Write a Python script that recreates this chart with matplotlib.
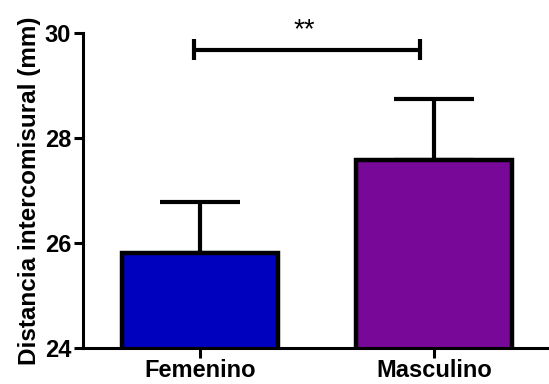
import matplotlib.pyplot as plt

plt.rcParams["font.family"] = ["Liberation Sans", "DejaVu Sans"]
plt.rcParams["font.weight"] = "bold"

groups = ["Femenino", "Masculino"]
means = [25.81, 27.59]
sem = [0.97, 1.15]
colors = ["#0000BF", "#770898"]
sig_label = "**"
sig_y = 29.68

fig = plt.figure(figsize=(5.49, 3.84), dpi=100)
ax = fig.add_axes([0.151, 0.094, 0.849, 0.82])

x = list(range(len(groups)))
ax.errorbar(x, means, yerr=[[0] * len(sem), sem], fmt="none", ecolor="black",
            elinewidth=3, capsize=29, capthick=3, zorder=1)
ax.bar(x, means, width=0.667, color=colors, edgecolor="black", linewidth=3.2,
       zorder=2)

# significance bracket between the two groups
x0, x1 = x[0] - 0.026, x[1] - 0.06
ax.plot([x0, x1], [sig_y, sig_y], color="black", lw=3, solid_capstyle="butt")
for xe in (x0, x1):
    ax.plot([xe, xe], [sig_y - 0.2, sig_y + 0.2], color="black", lw=3,
            solid_capstyle="butt")
ax.text((x0 + x1) / 2 - 0.01, sig_y + 0.12, sig_label, ha="center",
        va="bottom", fontsize=20, fontweight="normal")

ax.set_ylim(24, 30)
ax.set_xlim(-0.5, 1.49)
ax.set_yticks([24, 26, 28, 30])
ax.set_xticks(x)
ax.set_xticklabels(groups, fontsize=17, fontweight="bold")
ax.tick_params(axis="y", labelsize=17, width=2.2, length=6.5, pad=2)
ax.tick_params(axis="x", width=2.2, length=7, pad=1)
ax.set_ylabel("Distancia intercomisural (mm)", fontsize=17.5,
              fontweight="bold", labelpad=3)

for side in ("top", "right"):
    ax.spines[side].set_visible(False)
for side in ("left", "bottom"):
    ax.spines[side].set_linewidth(2.2)

fig.savefig("out.png", dpi=100)
